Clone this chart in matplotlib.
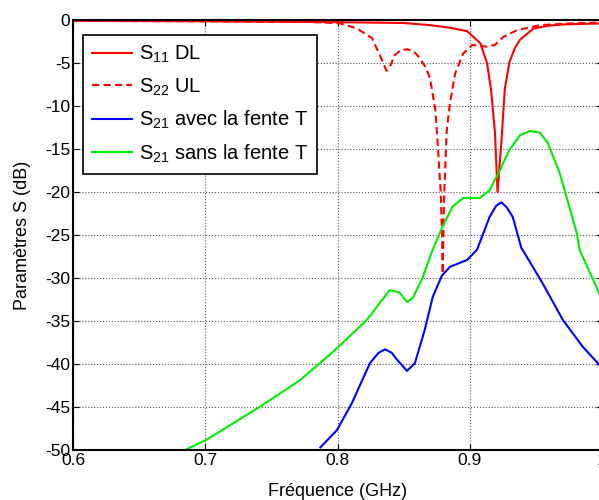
import matplotlib
matplotlib.use("Agg")
import matplotlib.pyplot as plt

plt.rcParams['font.family'] = ['Liberation Sans', 'DejaVu Sans']
plt.rcParams['mathtext.fontset'] = 'custom'
plt.rcParams['mathtext.rm'] = 'Liberation Sans'
plt.rcParams['axes.unicode_minus'] = False

# S11 DL (solid red)
f_s11 = [0.6, 0.7, 0.76, 0.8, 0.85, 0.87, 0.885, 0.898, 0.908, 0.913, 0.916, 0.919, 0.921,
         0.924, 0.9265, 0.930, 0.934, 0.938, 0.948, 0.96, 0.973, 1.0]
s11 = [-0.1, -0.15, -0.2, -0.25, -0.35, -0.6, -0.9, -1.3, -2.7, -5, -8, -13, -20,
       -14, -8, -4.9, -3.3, -2.3, -1.0, -0.65, -0.5, -0.4]

# S22 UL (dashed red)
f_s22 = [0.6, 0.7, 0.75, 0.772, 0.79, 0.802, 0.815, 0.826, 0.8335, 0.837, 0.840, 0.843, 0.848,
         0.853, 0.858, 0.862, 0.867, 0.870, 0.874, 0.876, 0.878, 0.879, 0.8795, 0.8805, 0.8825,
         0.885, 0.889, 0.895, 0.902, 0.913, 0.919, 0.925, 0.9355, 0.953, 0.975, 1.0]
s22 = [-0.1, -0.15, -0.2, -0.2, -0.3, -0.4, -1.0, -2.1, -4.6, -5.9, -5.3, -4.1, -3.5,
       -3.4, -3.7, -4.4, -5.6, -6.8, -10.5, -15, -20, -24.8, -29.5, -21, -13,
       -9.7, -6.2, -3.9, -2.9, -3.1, -2.9, -2.0, -1.2, -0.6, -0.4, -0.3]

# S21 avec la fente T (blue)
f_avec = [0.787, 0.7995, 0.811, 0.8245, 0.831, 0.836, 0.841, 0.845, 0.8525, 0.8585, 0.866, 0.872,
          0.879, 0.885, 0.898, 0.9055, 0.915, 0.920, 0.924, 0.928, 0.9325, 0.939, 0.943, 0.955,
          0.9705, 0.9855, 0.998]
s21_avec = [-49.7, -47.7, -44.5, -39.9, -38.7, -38.3, -38.7, -39.5, -40.8, -39.9, -36, -32.2,
            -29.7, -28.7, -27.9, -26.7, -22.9, -21.6, -21.2, -21.8, -22.9, -26.5, -27.5, -30.6,
            -34.9, -38, -40.1]

# S21 sans la fente T (green)
f_sans = [0.6847, 0.701, 0.741, 0.7715, 0.7965, 0.822, 0.8395, 0.847, 0.8525, 0.857, 0.8645,
          0.872, 0.8795, 0.887, 0.895, 0.9075, 0.915, 0.923, 0.930, 0.938, 0.9455, 0.953, 0.959,
          0.968, 0.981, 0.983, 0.998]
s21_sans = [-50, -48.8, -45, -41.9, -38.6, -34.9, -31.4, -31.7, -32.8, -32.3, -29.9,
            -26.7, -24, -21.7, -20.7, -20.7, -19.8, -17.4, -15.1, -13.4, -12.9, -13.1, -14.3,
            -17.8, -24.8, -26.7, -31.8]

fig = plt.figure(figsize=(5.99, 5.0), dpi=100)
ax = fig.add_axes([0.122, 0.1, 0.883, 0.86])

ax.plot(f_s11, s11, color='red', lw=1.5, label='S$_{11}$ DL')
ax.plot(f_s22, s22, color='red', lw=1.5, ls=(0, (3.5, 2)), label='S$_{22}$ UL')
ax.plot(f_avec, s21_avec, color='blue', lw=1.5, label='S$_{21}$ avec la fente T')
ax.plot(f_sans, s21_sans, color='#00ee00', lw=1.5, label='S$_{21}$ sans la fente T')

ax.set_xlim(0.6, 1.0)
ax.set_ylim(-50, 0)
ax.set_xticks([0.6, 0.7, 0.8, 0.9, 1.0])
ax.set_xticklabels(['0.6', '0.7', '0.8', '0.9', '1'])
ax.set_yticks(range(-50, 1, 5))
ax.tick_params(direction='in', top=True, right=True, labelsize=12.5, length=4, pad=2)
ax.grid(True, color='#555555', ls=':', lw=0.8)
for sp in ax.spines.values():
    sp.set_linewidth(1.5)

ax.set_xlabel('Fréquence (GHz)', fontsize=13, labelpad=11)
ax.set_ylabel('Paramètres S (dB)', fontsize=13, labelpad=10)

leg = ax.legend(loc='upper left', bbox_to_anchor=(0.019, 0.965), fontsize=14.5, frameon=True,
                fancybox=False, edgecolor='black', framealpha=1, handlelength=2.0,
                labelspacing=0.55, borderpad=0.45, handletextpad=0.3, borderaxespad=0)
leg.get_frame().set_linewidth(1.2)

fig.savefig('out.png', dpi=100)
